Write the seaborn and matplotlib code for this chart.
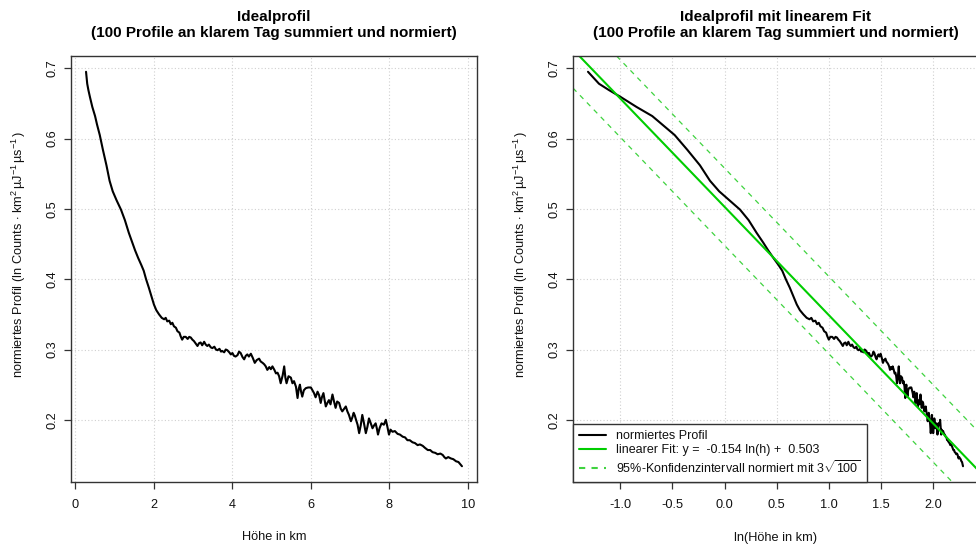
import numpy as np
import matplotlib
matplotlib.use("Agg")
import matplotlib.pyplot as plt
from matplotlib.lines import Line2D
import seaborn as sns

# ---------------- data ----------------
heights_km = [
    0.27, 0.30, 0.33, 0.37, 0.43, 0.50, 0.55, 0.62, 0.70, 0.79, 0.87, 0.95,
    1.05, 1.16, 1.26, 1.36, 1.45, 1.52, 1.60, 1.68, 1.74, 1.80, 1.87, 1.94,
    2.00, 2.06, 2.13, 2.20, 2.26, 2.30, 2.34, 2.39, 2.43, 2.47, 2.51, 2.56,
    2.60, 2.65, 2.68, 2.72, 2.76, 2.81, 2.86, 2.90, 2.94, 2.98, 3.02, 3.06,
    3.11, 3.15, 3.19, 3.23, 3.28, 3.32, 3.36, 3.40, 3.45, 3.49, 3.54, 3.58,
    3.62, 3.67, 3.71, 3.74, 3.79, 3.83, 3.87, 3.92, 3.96, 4.00, 4.04, 4.08,
    4.13, 4.17, 4.21, 4.26, 4.30, 4.34, 4.38, 4.42, 4.47, 4.52, 4.57, 4.62,
    4.68, 4.72, 4.77, 4.81, 4.85, 4.89, 4.94, 4.98, 5.02, 5.07, 5.11, 5.15,
    5.19, 5.23, 5.28, 5.32, 5.35, 5.38, 5.43, 5.49, 5.53, 5.57, 5.62, 5.66,
    5.69, 5.72, 5.75, 5.78, 5.82, 5.87, 5.93, 6.00, 6.04, 6.08, 6.12, 6.17,
    6.21, 6.25, 6.28, 6.32, 6.35, 6.38, 6.42, 6.46, 6.50, 6.55, 6.59, 6.63,
    6.67, 6.72, 6.76, 6.80, 6.85, 6.89, 6.93, 6.97, 7.02, 7.06, 7.09, 7.12,
    7.14, 7.19, 7.23, 7.27, 7.31, 7.35, 7.40, 7.44, 7.48, 7.52, 7.57, 7.61,
    7.65, 7.68, 7.71, 7.75, 7.80, 7.86, 7.91, 7.95, 7.99, 8.03, 8.08, 8.14,
    8.21, 8.27, 8.34, 8.40, 8.46, 8.52, 8.59, 8.65, 8.72, 8.78, 8.85, 8.91,
    8.98, 9.04, 9.10, 9.17, 9.23, 9.30, 9.36, 9.40, 9.44, 9.50, 9.57, 9.63,
    9.70, 9.76, 9.82, 9.85,
]
profile = [
    0.695, 0.678, 0.669, 0.659, 0.645, 0.632, 0.620, 0.605, 0.584, 0.562, 0.540, 0.525,
    0.512, 0.499, 0.484, 0.466, 0.452, 0.441, 0.430, 0.420, 0.412, 0.400, 0.388, 0.375,
    0.364, 0.356, 0.350, 0.345, 0.343, 0.345, 0.340, 0.341, 0.336, 0.338, 0.333, 0.331,
    0.326, 0.324, 0.319, 0.314, 0.318, 0.318, 0.315, 0.318, 0.317, 0.314, 0.312, 0.309,
    0.305, 0.309, 0.310, 0.306, 0.311, 0.307, 0.305, 0.307, 0.303, 0.302, 0.304, 0.300,
    0.299, 0.301, 0.297, 0.298, 0.296, 0.300, 0.299, 0.296, 0.293, 0.295, 0.291, 0.290,
    0.292, 0.297, 0.295, 0.289, 0.286, 0.291, 0.293, 0.290, 0.294, 0.288, 0.281, 0.285,
    0.287, 0.283, 0.281, 0.279, 0.276, 0.271, 0.275, 0.272, 0.276, 0.271, 0.266, 0.267,
    0.262, 0.252, 0.263, 0.276, 0.260, 0.252, 0.262, 0.260, 0.252, 0.255, 0.247, 0.231,
    0.244, 0.250, 0.240, 0.233, 0.242, 0.245, 0.246, 0.246, 0.242, 0.238, 0.232, 0.240,
    0.235, 0.224, 0.232, 0.238, 0.228, 0.219, 0.224, 0.228, 0.222, 0.236, 0.226, 0.217,
    0.226, 0.224, 0.216, 0.212, 0.216, 0.219, 0.212, 0.207, 0.198, 0.204, 0.210, 0.206,
    0.202, 0.193, 0.181, 0.192, 0.207, 0.196, 0.181, 0.190, 0.202, 0.196, 0.188, 0.192,
    0.195, 0.188, 0.179, 0.188, 0.195, 0.193, 0.200, 0.190, 0.179, 0.186, 0.183, 0.184,
    0.180, 0.179, 0.176, 0.175, 0.171, 0.171, 0.168, 0.167, 0.164, 0.165, 0.163, 0.160,
    0.157, 0.157, 0.154, 0.153, 0.151, 0.152, 0.150, 0.147, 0.145, 0.147, 0.145, 0.144,
    0.141, 0.140, 0.136, 0.134,
]
fit_slope = -0.154
fit_intercept = 0.503
conf_halfwidth = 0.055

left_xticks = [0, 2, 4, 6, 8, 10]
right_xticks = [-1.0, -0.5, 0.0, 0.5, 1.0, 1.5, 2.0]
yticks = [0.2, 0.3, 0.4, 0.5, 0.6, 0.7]

title_left = "Idealprofil\n(100 Profile an klarem Tag summiert und normiert)"
title_right = "Idealprofil mit linearem Fit\n(100 Profile an klarem Tag summiert und normiert)"
xlabel_left = "Höhe in km"
xlabel_right = "ln(Höhe in km)"
ylabel = (r"normiertes Profil (ln Counts $\cdot$ km$^{2}$$\,$µJ$^{-1}$$\,$µs$^{-1}$$\,$)")
legend_labels = [
    "normiertes Profil",
    f"linearer Fit: y =  {fit_slope:.3f} ln(h) +  {fit_intercept:.3f}",
    r"95%-Konfidenzintervall normiert mit $3\sqrt{100}$",
]

# ---------------- style ----------------
sns.set_style("white")
plt.rcParams["font.family"] = ["Liberation Sans", "DejaVu Sans"]
plt.rcParams["mathtext.fontset"] = "custom"
plt.rcParams["mathtext.rm"] = "Liberation Sans"
plt.rcParams["mathtext.it"] = "Liberation Sans:italic"
plt.rcParams["mathtext.bf"] = "Liberation Sans:bold"
plt.rcParams["text.color"] = "black"

GREEN = "#00CD00"
GREEN_D = "#3FD33F"
TICK_FS = 9.2
LAB_FS = 9.2
LEG_FS = 9.0
TITLE_FS = 11

W, H = 976, 547
fig = plt.figure(figsize=(W / 100, H / 100), dpi=100)


def px_axes(x0, x1, y0, y1):
    return fig.add_axes([x0 / W, 1 - y1 / H, (x1 - x0) / W, (y1 - y0) / H])


axL = px_axes(71, 477, 56, 482)
axR = px_axes(573, 978, 56, 482)

h = np.array(heights_km)
v = np.array(profile)
lnh = np.log(h)


def r_lim(a):
    lo, hi = float(np.min(a)), float(np.max(a))
    pad = 0.04 * (hi - lo)
    return lo - pad, hi + pad


ylim = r_lim(v)


def style_axes(ax, xticks):
    ax.set_ylim(*ylim)
    ax.set_xticks(xticks)
    ax.set_yticks(yticks)
    ax.grid(True, color="#D0D0D0", linestyle=(0, (1, 2)), linewidth=0.8)
    ax.set_axisbelow(True)
    for s in ax.spines.values():
        s.set_color("#333333")
        s.set_linewidth(1.0)
        s.set_visible(True)
    ax.tick_params(axis="both", direction="out", length=5, width=0.9,
                   color="#333333", labelsize=TICK_FS, labelcolor="#111111",
                   bottom=True, left=True)
    ax.tick_params(axis="x", pad=7)
    ax.tick_params(axis="y", pad=4)
    ax.set_ylabel(ylabel, fontsize=LAB_FS, color="#111111")
    ax.yaxis.set_label_coords(-0.106, 0.535)


# ---- left panel ----
sns.lineplot(x=h, y=v, ax=axL, color="black", linewidth=1.5, sort=False,
             estimator=None)
axL.set_xlim(*r_lim(h))
style_axes(axL, left_xticks)
axL.set_xticklabels([f"{t:g}" for t in left_xticks])
axL.set_yticklabels([f"{t:.1f}" for t in yticks], rotation=90, va="center")
axL.set_xlabel(xlabel_left, fontsize=LAB_FS, labelpad=15, color="#111111")
axL.set_title(title_left, fontsize=TITLE_FS, fontweight="bold", pad=14,
              linespacing=1.1, color="black")

# ---- right panel ----
sns.lineplot(x=lnh, y=v, ax=axR, color="black", linewidth=1.5, sort=False,
             estimator=None)
axR.axline((0, fit_intercept), slope=fit_slope, color=GREEN, linewidth=1.5)
axR.axline((0, fit_intercept + conf_halfwidth), slope=fit_slope,
           color=GREEN_D, linewidth=0.9, linestyle=(0, (4, 4)))
axR.axline((0, fit_intercept - conf_halfwidth), slope=fit_slope,
           color=GREEN_D, linewidth=0.9, linestyle=(0, (4, 4)))
axR.set_xlim(*r_lim(lnh))
style_axes(axR, right_xticks)
axR.set_xticklabels([f"{t:.1f}" for t in right_xticks])
axR.set_yticklabels([f"{t:.1f}" for t in yticks], rotation=90, va="center")
axR.set_xlabel(xlabel_right, fontsize=LAB_FS, labelpad=15, color="#111111")
axR.set_title(title_right, fontsize=TITLE_FS, fontweight="bold", pad=14,
              linespacing=1.1, color="black")

h_prof = Line2D([], [], color="black", linewidth=1.5)
h_fit = Line2D([], [], color=GREEN, linewidth=1.5)
h_band = Line2D([], [], color=GREEN_D, linewidth=1.5, linestyle=(0, (3, 3)))
leg = axR.legend([h_prof, h_fit, h_band], legend_labels, loc="lower left",
                 bbox_to_anchor=(0, 0), borderaxespad=0, fontsize=LEG_FS,
                 frameon=True, fancybox=False, framealpha=1,
                 edgecolor="#333333", handlelength=2.1, handletextpad=0.85,
                 labelspacing=0.2, borderpad=0.5)
leg.get_frame().set_linewidth(1.0)
for t in leg.get_texts():
    t.set_color("#111111")

fig.savefig("out.png", dpi=100)
